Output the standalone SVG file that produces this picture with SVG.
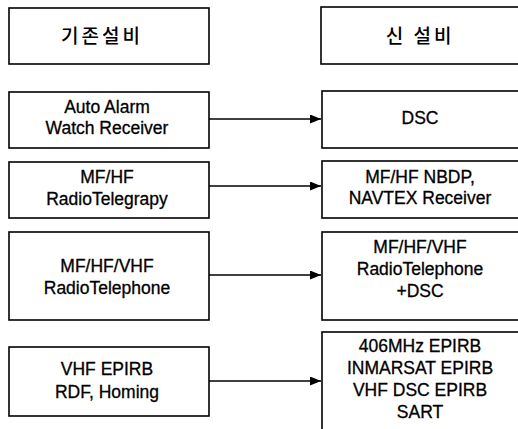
<svg xmlns="http://www.w3.org/2000/svg" width="518" height="429" viewBox="0 0 518 429">
<style>
.box{fill:#fff;stroke:#000;stroke-width:1.6}
.t{font-family:"Liberation Sans",Arial,sans-serif;font-size:17.5px;fill:#000;stroke:#000;stroke-width:0.3;text-anchor:middle}
.k{font-family:"Noto Sans CJK KR","Liberation Sans",sans-serif;font-size:19px;font-weight:500;fill:#000;text-anchor:middle;letter-spacing:3px}
.c{stroke:#000;stroke-width:1.6;fill:none}
</style>
<defs>
<marker id="ah" markerWidth="12" markerHeight="10" refX="11" refY="4.5" orient="auto" markerUnits="userSpaceOnUse">
<path d="M0,0 L11,4.5 L0,9 Z" fill="#000"/>
</marker>
</defs>
<rect width="518" height="429" fill="#fff"/>
<g id="h-old"><rect class="box" x="9" y="8" width="200" height="56"/><text class="k" x="102" y="43">기존설비</text></g>
<g id="h-new"><rect class="box" x="321" y="7" width="205" height="57"/><text class="k" x="420" y="43">신 설비</text></g>

<g id="old1"><rect class="box" x="9" y="92" width="200" height="56"/><text class="t" x="107" y="113">Auto Alarm</text><text class="t" x="107" y="134">Watch Receiver</text></g>
<g id="new1"><rect class="box" x="322" y="91" width="205" height="57"/><text class="t" x="420" y="124">DSC</text></g>

<g id="old2"><rect class="box" x="9" y="162" width="200" height="56"/><text class="t" x="107" y="183">MF/HF</text><text class="t" x="107" y="205">RadioTelegrapy</text></g>
<g id="new2"><rect class="box" x="322" y="161" width="205" height="57"/><text class="t" x="420" y="183">MF/HF NBDP,</text><text class="t" x="420" y="204">NAVTEX Receiver</text></g>

<g id="old3"><rect class="box" x="9" y="232" width="200" height="88"/><text class="t" x="107" y="272">MF/HF/VHF</text><text class="t" x="107" y="294">RadioTelephone</text></g>
<g id="new3"><rect class="box" x="322" y="232" width="205" height="88"/><text class="t" x="420" y="253">MF/HF/VHF</text><text class="t" x="420" y="275">RadioTelephone</text><text class="t" x="420" y="297">+DSC</text></g>

<g id="old4"><rect class="box" x="9" y="347" width="200" height="69"/><text class="t" x="107" y="375">VHF EPIRB</text><text class="t" x="107" y="398">RDF, Homing</text></g>
<g id="new4"><rect class="box" x="322" y="332" width="205" height="110"/><text class="t" x="420" y="352">406MHz EPIRB</text><text class="t" x="420" y="374">INMARSAT EPIRB</text><text class="t" x="420" y="396">VHF DSC EPIRB</text><text class="t" x="420" y="418">SART</text></g>

<g id="connectors">
<line class="c" x1="209" y1="119" x2="321" y2="119" marker-end="url(#ah)"/>
<line class="c" x1="209" y1="186" x2="321" y2="186" marker-end="url(#ah)"/>
<line class="c" x1="209" y1="275" x2="321" y2="275" marker-end="url(#ah)"/>
<line class="c" x1="209" y1="381" x2="321" y2="381" marker-end="url(#ah)"/>
</g>
</svg>
